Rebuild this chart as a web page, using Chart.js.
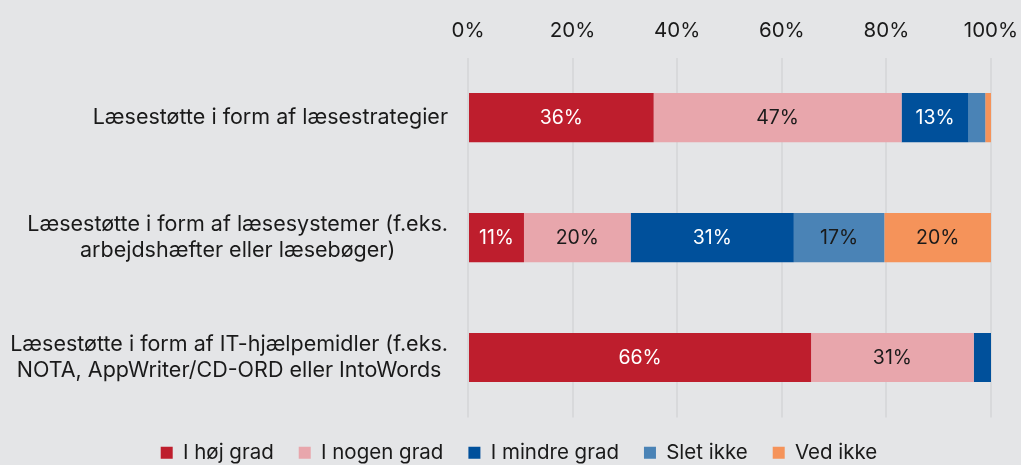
<!DOCTYPE html>
<html>
<head>
<meta charset="utf-8">
<script src="https://cdn.jsdelivr.net/npm/chart.js@4"></script>
<style>
  html, body { margin: 0; padding: 0; background: #e4e5e7; }
  #wrap { width: 1021px; height: 465px; }
</style>
</head>
<body>
<div id="wrap"><canvas id="chart"></canvas></div>
<script>
const categories = [
    ['Læsestøtte i form af læsestrategier'],
    ['Læsestøtte i form af læsesystemer (f.eks.', 'arbejdshæfter eller læsebøger)'],
    ['Læsestøtte i form af IT-hjælpemidler (f.eks.', 'NOTA, AppWriter/CD-ORD eller IntoWords']
];
const seriesNames = ['I høj grad', 'I nogen grad', 'I mindre grad', 'Slet ikke', 'Ved ikke'];
const hoejGrad = [35.5, 10.7, 65.6];
const nogenGrad = [47.4, 20.4, 31.1];
const mindreGrad = [12.8, 31.2, 3.3];
const sletIkke = [3.2, 17.3, 0];
const vedIkke = [1.1, 20.4, 0];
const xTicks = [0, 20, 40, 60, 80, 100];

const colors = ['#be1e2d', '#e8a6ac', '#00509b', '#4a83b6', '#f5935a'];
const labelColors = ['#ffffff', '#1a1a1a', '#ffffff', '#1a1a1a', '#1a1a1a'];
const FONT = 'Inter, "Noto Sans", sans-serif';

// value labels inside the segments (only the larger ones)
const segmentLabels = {
    id: 'segmentLabels',
    afterDatasetsDraw(chart) {
        const ctx = chart.ctx;
        ctx.save();
        ctx.font = '19.5px ' + FONT;
        ctx.textAlign = 'center';
        ctx.textBaseline = 'middle';
        chart.data.datasets.forEach((ds, i) => {
            chart.getDatasetMeta(i).data.forEach((bar, j) => {
                const v = ds.data[j];
                if (v < 8) return;
                const x = (bar.x + bar.base) / 2;
                ctx.fillStyle = labelColors[i];
                ctx.fillText(Math.round(v) + '%', x, bar.y + 1);
            });
        });
        ctx.restore();
    }
};

// category labels: block right-aligned, lines centred within the block
const categoryLabels = {
    id: 'categoryLabels',
    afterDraw(chart) {
        const ctx = chart.ctx;
        const y = chart.scales.y;
        const right = chart.chartArea.left - 20;
        ctx.save();
        ctx.font = '21.5px ' + FONT;
        ctx.fillStyle = '#1a1a1a';
        ctx.textAlign = 'center';
        ctx.textBaseline = 'middle';
        const lh = 26;
        categories.forEach((lines, i) => {
            const w = Math.max(...lines.map(l => ctx.measureText(l).width));
            const cx = right - w / 2;
            const cy = y.getPixelForTick(i);
            lines.forEach((l, k) => {
                ctx.fillText(l, cx, cy + (k - (lines.length - 1) / 2) * lh);
            });
        });
        ctx.restore();
    }
};

const allSeries = [hoejGrad, nogenGrad, mindreGrad, sletIkke, vedIkke];

new Chart(document.getElementById('chart'), {
    type: 'bar',
    data: {
        labels: categories,
        datasets: allSeries.map((d, i) => ({
            label: seriesNames[i],
            data: d,
            backgroundColor: colors[i],
            borderWidth: 0,
            barPercentage: 0.41,
            categoryPercentage: 1
        }))
    },
    options: {
        indexAxis: 'y',
        responsive: true,
        maintainAspectRatio: false,
        animation: false,
        layout: { padding: { left: 47, right: 30, top: 5, bottom: -8 } },
        plugins: {
            legend: {
                position: 'bottom',
                labels: {
                    boxWidth: 12,
                    boxHeight: 12,
                    padding: 25,
                    color: '#1a1a1a',
                    font: { family: FONT, size: 20.5 }
                }
            },
            tooltip: { enabled: false }
        },
        scales: {
            x: {
                position: 'top',
                stacked: true,
                min: 0,
                max: 100,
                afterBuildTicks: (s) => { s.ticks = xTicks.map(v => ({ value: v })); },
                afterFit: (s) => { s.paddingRight = 0; s.paddingLeft = 0; },
                ticks: {
                    color: '#1a1a1a',
                    font: { family: FONT, size: 20.5 },
                    padding: 14,
                    callback: (v) => v + '%'
                },
                grid: { color: '#d8d9db', lineWidth: 2, drawTicks: false },
                border: { display: false }
            },
            y: {
                stacked: true,
                afterFit: (s) => { s.width = 421; },
                ticks: { display: false },
                grid: { display: false },
                border: { display: false }
            }
        }
    },
    plugins: [segmentLabels, categoryLabels]
});
</script>
</body>
</html>
